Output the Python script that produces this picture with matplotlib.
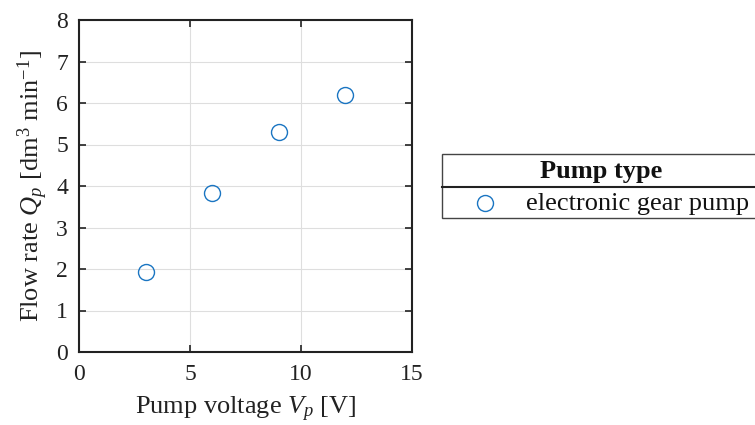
import matplotlib
matplotlib.use("Agg")
import matplotlib.pyplot as plt
from matplotlib.lines import Line2D
from matplotlib.patches import Rectangle

plt.rcParams['font.family'] = ['Liberation Serif', 'DejaVu Serif']
plt.rcParams['mathtext.fontset'] = 'custom'
plt.rcParams['mathtext.rm'] = 'Liberation Serif'
plt.rcParams['mathtext.it'] = 'Liberation Serif:italic'
plt.rcParams['mathtext.bf'] = 'Liberation Serif:bold'

voltage = [3, 6, 9, 12]
flow = [1.92, 3.82, 5.30, 6.20]
series_name = "electronic gear pump"
legend_title = "Pump type"

W, H = 755, 425
fig = plt.figure(figsize=(W / 100, H / 100), dpi=100)
ax = fig.add_axes([79/W, 73/H, 333/W, 332/H])

marker_style = dict(linestyle='none', marker='o', markersize=11.5,
                    markerfacecolor='none', markeredgecolor='#1a75c2',
                    markeredgewidth=1.0)
ax.plot(voltage, flow, label=series_name, **marker_style)

ax.set_xlim(0, 15)
ax.set_ylim(0, 8)
ax.set_xticks([0, 5, 10, 15])
ax.set_yticks(range(0, 9))
ax.grid(True, color='#dedede', linewidth=0.8)
ax.set_axisbelow(True)
ax.tick_params(direction='in', top=True, right=True, length=5, width=1.2,
               labelsize=17, colors='#222222', labelcolor='#222222')
ax.tick_params(axis='x', pad=9)
ax.tick_params(axis='y', pad=8)
for s in ax.spines.values():
    s.set_linewidth(1.5)
    s.set_color('#222222')

ax.set_xlabel("Pump voltage $V_p$ [V]", fontsize=19, labelpad=7, color='#222222')
ax.set_ylabel("Flow rate $Q_p$ [dm$^3$ min$^{\\mathrm{-1}}$]", fontsize=19,
              labelpad=4, color='#222222')

# legend box drawn by hand (it runs off the right edge)
def fx(px):
    return px / W

def fy(py):
    return 1 - py / H

fig.add_artist(Rectangle((fx(442), fy(218)), fx(780) - fx(442), fy(154) - fy(218),
                         transform=fig.transFigure, facecolor='white',
                         edgecolor='#444444', linewidth=1.0, clip_on=False))
fig.add_artist(Line2D([fx(442), fx(780)], [fy(187), fy(187)],
                      transform=fig.transFigure, color='#222222', linewidth=1.5))
fig.text(fx(601), fy(178), legend_title, fontsize=19, fontweight='bold',
         ha='center', va='baseline', color='#111111')
fig.add_artist(Line2D([fx(485)], [fy(203)], transform=fig.transFigure, **marker_style))
fig.text(fx(526), fy(210), series_name, fontsize=19, ha='left', va='baseline',
         color='#111111')

fig.savefig("out.png", dpi=100)
